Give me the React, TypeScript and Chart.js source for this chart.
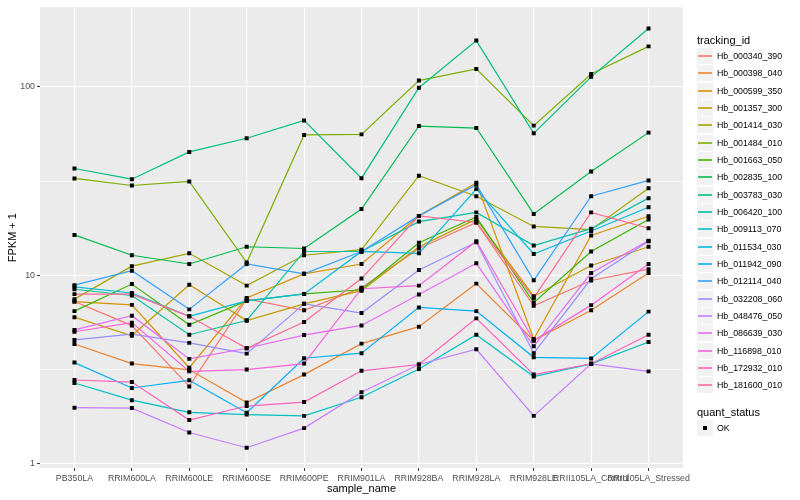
import React, { useEffect, useRef } from "react";
import { Chart, registerables } from "chart.js";
Chart.register(...registerables);

const categories = [
  "PB350LA", "RRIM600LA", "RRIM600LE", "RRIM600SE", "RRIM600PE", "RRIM901LA",
  "RRIM928BA", "RRIM928LA", "RRIM928LE", "RRII105LA_Control", "RRII105LA_Stressed",
];

const trackingIds = [
  "Hb_000340_390", "Hb_000398_040", "Hb_000599_350", "Hb_001357_300", "Hb_001414_030",
  "Hb_001484_010", "Hb_001663_050", "Hb_002835_100", "Hb_003783_030", "Hb_006420_100",
  "Hb_009113_070", "Hb_011534_030", "Hb_011942_090", "Hb_012114_040", "Hb_032208_060",
  "Hb_048476_050", "Hb_086639_030", "Hb_116898_010", "Hb_172932_010", "Hb_181600_010",
];

const seriesColors = [
  "#F8766D", "#EA8331", "#D89000", "#C09B00", "#A3A500",
  "#7CAE00", "#39B600", "#00BB4E", "#00BF7D", "#00C1A3",
  "#00BFC4", "#00BAE0", "#00B0F6", "#35A2FF", "#9590FF",
  "#C77CFF", "#E76BF3", "#FA62DB", "#FF62BC", "#FF6C91",
];

// FPKM + 1 values, one array per tracking_id, in category order
const hb000340_390 = [7.27, 5.42, 2.58, 7.5, 6.53, 8.6, 13.9, 19.1, 6.9, 9.4, 10.8];
const hb000398_040 = [4.33, 3.41, 3.16, 2.12, 2.98, 4.35, 5.35, 9.05, 4.52, 6.54, 10.3];
const hb000599_350 = [7.27, 6.98, 3.24, 7.6, 10.2, 11.5, 20.7, 31, 4.6, 16.3, 20.6];
const hb001357_300 = [6.01, 4.79, 8.92, 5.77, 7.07, 8.3, 14.2, 19.9, 7.76, 11.3, 14.2];
const hb001414_030 = [7.49, 11.2, 13.1, 8.83, 12.8, 13.7, 33.8, 26.3, 18.2, 17.5, 29];
const hb001484_010 = [32.7, 30, 31.5, 11.7, 55.6, 56, 108, 124.5, 62.3, 117, 164];
const hb001663_050 = [6.47, 9.0, 5.48, 7.33, 7.98, 8.4, 14.9, 20.4, 7.18, 13.4, 19.8];
const hb002835_100 = [16.4, 12.8, 11.5, 14.2, 13.9, 22.5, 62, 60.5, 21.2, 35.6, 57.2];
const hb003783_030 = [36.9, 32.4, 45.2, 53.4, 66.4, 32.8, 99, 176, 56.7, 113, 204];
const hb006420_100 = [8.45, 7.83, 4.85, 5.77, 13.4, 13.4, 19.3, 21.6, 14.4, 17.7, 25.7];
const hb009113_070 = [2.69, 2.18, 1.88, 1.83, 1.8, 2.26, 3.19, 4.85, 2.91, 3.4, 4.44];
const hb011534_030 = [8.7, 8.07, 6.07, 7.33, 7.98, 13.4, 13.1, 28.7, 13.0, 17.2, 23];
const hb011942_090 = [3.45, 2.53, 2.78, 1.87, 3.64, 3.87, 6.77, 6.47, 3.68, 3.63, 6.43];
const hb012114_040 = [8.88, 10.6, 6.61, 11.5, 10.2, 13.4, 20.7, 30.3, 9.42, 26.3, 31.9];
const hb032208_060 = [4.55, 4.89, 4.39, 3.85, 7.07, 6.32, 10.7, 15, 3.87, 9.6, 15.2];
const hb048476_050 = [1.99, 1.98, 1.47, 1.22, 1.55, 2.4, 3.37, 4.06, 1.8, 3.4, 3.1];
const hb086639_030 = [5.14, 6.12, 3.61, 4.11, 4.83, 5.43, 7.93, 11.6, 4.21, 10.3, 15.3];
const hb116898_010 = [5.03, 5.62, 3.1, 3.17, 3.41, 8.5, 8.83, 15.2, 4.52, 6.96, 11.5];
const hb172932_010 = [2.79, 2.72, 1.71, 2.03, 2.13, 3.12, 3.37, 5.92, 2.98, 3.4, 4.85];
const hb181600_010 = [7.96, 7.96, 6.07, 4.11, 5.66, 9.63, 20.7, 19.1, 7.6, 21.6, 17.8];

const seriesValues = [
  hb000340_390, hb000398_040, hb000599_350, hb001357_300, hb001414_030,
  hb001484_010, hb001663_050, hb002835_100, hb003783_030, hb006420_100,
  hb009113_070, hb011534_030, hb011942_090, hb012114_040, hb032208_060,
  hb048476_050, hb086639_030, hb116898_010, hb172932_010, hb181600_010,
];

const yTickLabels = [1, 10, 100];
const yMinorBreaks = [Math.sqrt(10), Math.sqrt(1000)];
const quantStatus = ["OK"];

const FONT = "'Liberation Sans', Arial, Helvetica, sans-serif";

const isMajor = (v: number) => yTickLabels.some((t) => Math.abs(t - v) < 1e-6);

const panelBg = {
  id: "panelBg",
  beforeDraw(chart: any) {
    const { ctx, chartArea } = chart;
    if (!chartArea) return;
    ctx.save();
    ctx.fillStyle = "#EBEBEB";
    ctx.fillRect(chartArea.left, chartArea.top, chartArea.right - chartArea.left, chartArea.bottom - chartArea.top);
    ctx.restore();
  },
};

export default function App() {
  const ref = useRef<HTMLCanvasElement>(null);

  useEffect(() => {
    if (!ref.current) return;
    const lineSets = seriesValues.map((vals, i) => ({
      label: trackingIds[i],
      data: vals.map((v, j) => ({ x: j, y: v })),
      borderColor: seriesColors[i],
      backgroundColor: seriesColors[i],
      borderWidth: 1.2,
      pointRadius: 0,
      pointHoverRadius: 0,
      fill: false,
      tension: 0,
      order: 100 - i,
    }));
    const pointSets = seriesValues.map((vals, i) => ({
      label: trackingIds[i] + " " + quantStatus[0],
      data: vals.map((v, j) => ({ x: j, y: v })),
      showLine: false,
      pointStyle: "rect",
      pointRadius: 2.8,
      pointBorderWidth: 0,
      pointBackgroundColor: "#000000",
      pointBorderColor: "#000000",
      borderColor: "#000000",
      order: 0,
    }));

    const chart = new Chart(ref.current, {
      type: "line",
      data: { datasets: [...lineSets, ...pointSets] as any },
      plugins: [panelBg],
      options: {
        animation: false,
        responsive: true,
        maintainAspectRatio: false,
        devicePixelRatio: 1,
        layout: { padding: { top: 5, right: 117, left: 0, bottom: 0 } },
        plugins: { legend: { display: false }, tooltip: { enabled: false }, title: { display: false } },
        scales: {
          x: {
            type: "linear",
            min: -0.6,
            max: categories.length - 1 + 0.6,
            afterBuildTicks: (scale: any) => {
              scale.ticks = categories.map((_, i) => ({ value: i }));
            },
            afterFit: (scale: any) => {
              scale.height = 32;
            },
            ticks: {
              autoSkip: false,
              maxRotation: 0,
              minRotation: 0,
              padding: 2,
              color: "#4D4D4D",
              font: { size: 8.8, family: FONT },
              callback: (v: any) => categories[Math.round(Number(v))] ?? "",
            },
            grid: {
              color: "#FFFFFF",
              lineWidth: 1.1,
              tickColor: "#333333",
              tickLength: 3,
              tickWidth: 1,
            },
            border: { display: false },
            title: {
              display: true,
              text: "sample_name",
              color: "#000000",
              font: { size: 11, family: FONT },
              padding: { top: 0, bottom: 4.4 },
            },
          },
          y: {
            type: "logarithmic",
            min: 0.9526,
            max: 264.3,
            afterBuildTicks: (scale: any) => {
              scale.ticks = [...yTickLabels, ...yMinorBreaks].sort((a, b) => a - b).map((v) => ({ value: v }));
            },
            afterFit: (scale: any) => {
              scale.width = 40;
            },
            ticks: {
              autoSkip: false,
              padding: 2,
              color: "#4D4D4D",
              font: { size: 8.8, family: FONT },
              callback: (v: any) => (isMajor(Number(v)) ? String(Math.round(Number(v))) : ""),
            },
            grid: {
              color: "#FFFFFF",
              lineWidth: (ctx: any) => (isMajor(ctx.tick?.value) ? 1.1 : 0.55),
              tickColor: (ctx: any) => (isMajor(ctx.tick?.value) ? "#333333" : "rgba(0,0,0,0)"),
              tickLength: 3,
              tickWidth: 1,
            },
            border: { display: false },
            title: {
              display: true,
              text: "FPKM + 1",
              color: "#000000",
              font: { size: 11, family: FONT },
              padding: { top: 6.5, bottom: 0 },
            },
          },
        },
      } as any,
    });
    return () => chart.destroy();
  }, []);

  const keyH = 17.33;
  return (
    <div style={{ position: "fixed", left: 0, top: 0, width: 800, height: 500, background: "#FFFFFF", fontFamily: FONT }}>
      <canvas ref={ref} width={800} height={500} style={{ position: "absolute", left: 0, top: 0, width: 800, height: 500 }} />
      <div style={{ position: "absolute", left: 697, top: 34, fontSize: 11, lineHeight: "13px", color: "#000" }}>tracking_id</div>
      {trackingIds.map((id, i) => (
        <div key={id} style={{ position: "absolute", left: 697, top: Math.round(48 + i * keyH), height: 17, width: 100 }}>
          <div style={{ position: "absolute", left: 0, top: 0, width: 16, height: 16, background: "#F2F2F2" }}>
            <div style={{ position: "absolute", left: 1, width: 14, top: 7, height: 2, background: seriesColors[i], opacity: 0.8 }} />
          </div>
          <div style={{ position: "absolute", left: 20, top: 0, height: 17, lineHeight: "17px", fontSize: 8.8, color: "#000", whiteSpace: "nowrap" }}>{id}</div>
        </div>
      ))}
      <div style={{ position: "absolute", left: 697, top: 406, fontSize: 11, lineHeight: "13px", color: "#000" }}>quant_status</div>
      {quantStatus.map((q, i) => (
        <div key={q} style={{ position: "absolute", left: 697, top: 420 + i * 17, height: 17, width: 100 }}>
          <div style={{ position: "absolute", left: 0, top: 0, width: 16, height: 16, background: "#F2F2F2" }}>
            <div style={{ position: "absolute", left: 6, top: 6, width: 4, height: 4, background: "#000" }} />
          </div>
          <div style={{ position: "absolute", left: 20, top: 0, height: 17, lineHeight: "17px", fontSize: 8.8, color: "#000", whiteSpace: "nowrap" }}>{q}</div>
        </div>
      ))}
    </div>
  );
}
